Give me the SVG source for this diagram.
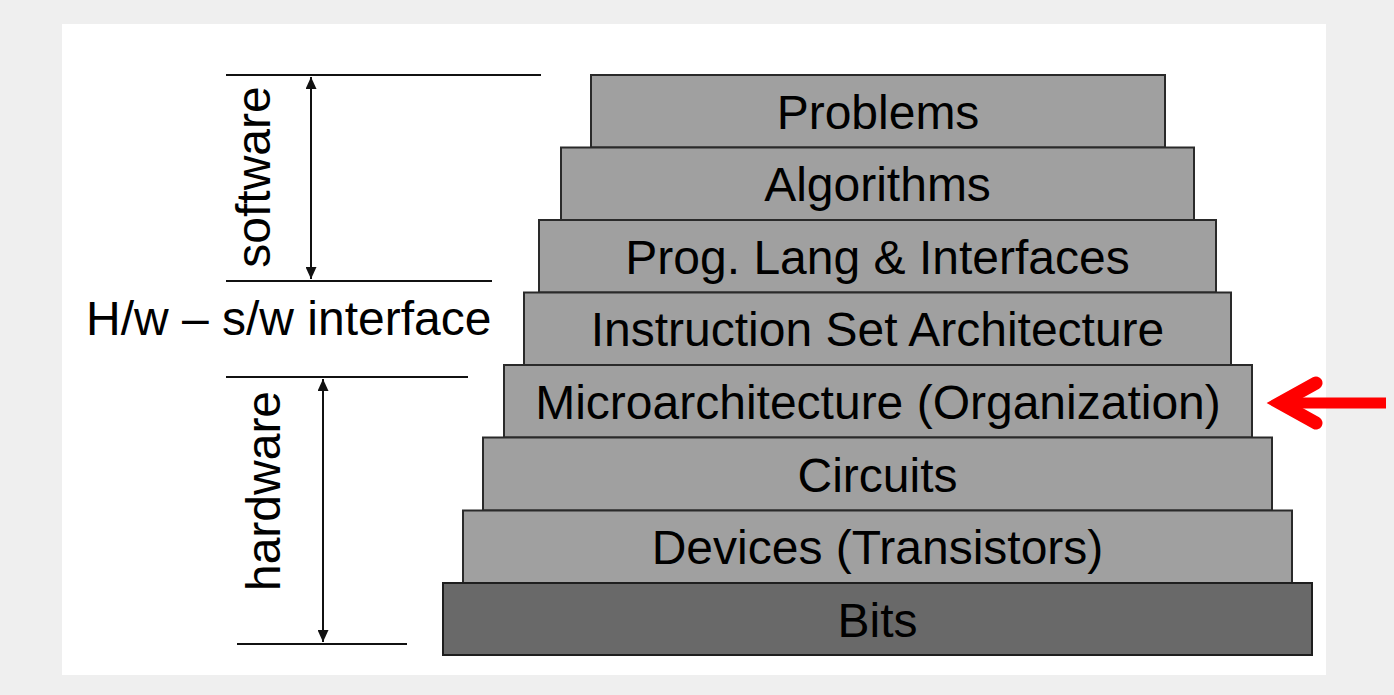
<svg xmlns="http://www.w3.org/2000/svg" width="1394" height="695" viewBox="0 0 1394 695">
  <style>
    .layer { fill: #a0a0a0; stroke: #2a2a2a; stroke-width: 2; }
    .bits { fill: #696969; stroke: #1e1e1e; stroke-width: 2; }
    .lbl { font-family: "Liberation Sans", Arial, sans-serif; font-size: 48px; fill: #000; text-anchor: middle; }
    .side { font-family: "Liberation Sans", Arial, sans-serif; font-size: 48px; fill: #000; }
    .dim { stroke: #111; stroke-width: 2; fill: none; }
  </style>
  <defs>
    <marker id="ah" viewBox="0 0 12 11" refX="12" refY="5.5" markerWidth="12" markerHeight="11" markerUnits="userSpaceOnUse" orient="auto-start-reverse">
      <path d="M0,0 L12,5.5 L0,11 z" fill="#111"/>
    </marker>
  </defs>

  <rect x="0" y="0" width="1394" height="695" fill="#efefef"/>
  <rect x="62" y="24" width="1264" height="651" fill="#ffffff"/>

  <g id="problems">
    <rect class="layer" x="591" y="75" width="574" height="72.5"/>
    <text class="lbl" x="878" y="128.5">Problems</text>
  </g>
  <g id="algorithms">
    <rect class="layer" x="561" y="147.5" width="633" height="72.5"/>
    <text class="lbl" x="877.5" y="201">Algorithms</text>
  </g>
  <g id="prog-lang">
    <rect class="layer" x="539" y="220" width="677" height="72.5"/>
    <text class="lbl" x="877.5" y="273.5">Prog. Lang &amp; Interfaces</text>
  </g>
  <g id="isa">
    <rect class="layer" x="524" y="292.5" width="707" height="72.5"/>
    <text class="lbl" x="877.5" y="346">Instruction Set Architecture</text>
  </g>
  <g id="microarchitecture">
    <rect class="layer" x="504" y="365" width="748" height="72.5"/>
    <text class="lbl" x="878" y="418.5">Microarchitecture (Organization)</text>
  </g>
  <g id="circuits">
    <rect class="layer" x="483" y="437.5" width="789" height="73"/>
    <text class="lbl" x="877.5" y="491.5">Circuits</text>
  </g>
  <g id="devices">
    <rect class="layer" x="463" y="510.5" width="829" height="72.5"/>
    <text class="lbl" x="877.5" y="564">Devices (Transistors)</text>
  </g>
  <g id="bits">
    <rect class="bits" x="443" y="583" width="869" height="72"/>
    <text class="lbl" x="877.5" y="636.5">Bits</text>
  </g>

  <g id="software-label">
    <text class="side" text-anchor="middle" transform="translate(270,177) rotate(-90)">software</text>
  </g>
  <g id="interface-label">
    <text class="side" x="86" y="335">H/w – s/w interface</text>
  </g>
  <g id="hardware-label">
    <text class="side" text-anchor="middle" transform="translate(280,491) rotate(-90)">hardware</text>
  </g>

  <g id="connectors">
    <line class="dim" x1="226" y1="75" x2="541" y2="75"/>
    <line class="dim" x1="226" y1="281" x2="492" y2="281"/>
    <line class="dim" x1="311" y1="77" x2="311" y2="279" marker-start="url(#ah)" marker-end="url(#ah)"/>
    <line class="dim" x1="226" y1="377" x2="468" y2="377"/>
    <line class="dim" x1="237" y1="644" x2="407" y2="644"/>
    <line class="dim" x1="323" y1="379" x2="323" y2="642" marker-start="url(#ah)" marker-end="url(#ah)"/>
    <line x1="1282" y1="403" x2="1386" y2="403" stroke="#ff0000" stroke-width="11"/>
    <polyline points="1316,383 1280,403 1316,423" fill="none" stroke="#ff0000" stroke-width="13" stroke-linecap="round" stroke-linejoin="miter"/>
  </g>
</svg>
